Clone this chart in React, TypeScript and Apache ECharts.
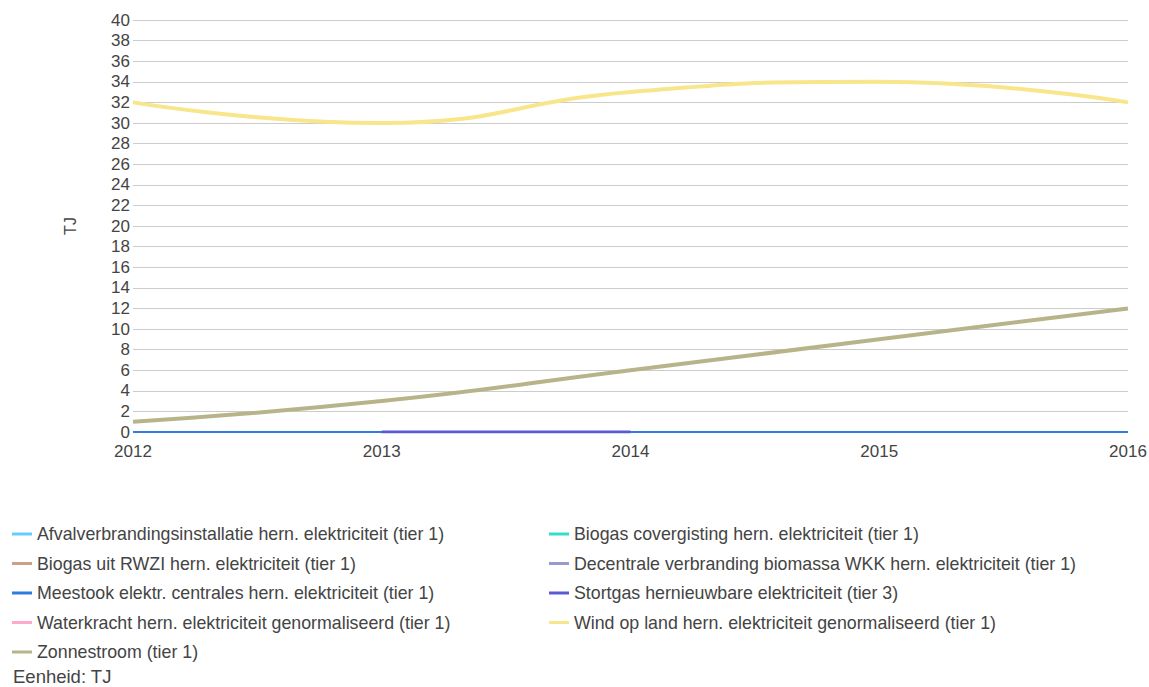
import React, { useEffect, useRef } from "react";
import * as echarts from "echarts";

const years = ["2012", "2013", "2014", "2015", "2016"];

const seriesNames = [
  "Afvalverbrandingsinstallatie hern. elektriciteit (tier 1)",
  "Biogas covergisting hern. elektriciteit (tier 1)",
  "Biogas uit RWZI hern. elektriciteit (tier 1)",
  "Decentrale verbranding biomassa WKK hern. elektriciteit (tier 1)",
  "Meestook elektr. centrales hern. elektriciteit (tier 1)",
  "Stortgas hernieuwbare elektriciteit (tier 3)",
  "Waterkracht hern. elektriciteit genormaliseerd (tier 1)",
  "Wind op land hern. elektriciteit genormaliseerd (tier 1)",
  "Zonnestroom (tier 1)",
];

const seriesColors = [
  "#66ccff",
  "#33ddcc",
  "#cc9f88",
  "#9999cc",
  "#2f7be0",
  "#5a5ad6",
  "#ffaacc",
  "#f7e68c",
  "#b8b48a",
];

const afval = [0, 0, 0, 0, 0];
const biogasCov = [0, 0, 0, 0, 0];
const biogasRwzi = [0, 0, 0, 0, 0];
const decentrale = [0, 0, 0, 0, 0];
const meestook = [0, 0, 0, 0, 0];
const stortgas = [null, 0, 0, null, null];
const waterkracht = [null, null, null, null, null];
const wind = [32, 30, 33, 34, 32];
const zon = [1, 3, 6, 9, 12];

const seriesData = [afval, biogasCov, biogasRwzi, decentrale, meestook, stortgas, waterkracht, wind, zon];
const lineWidths = [2, 2, 2, 2, 2, 3, 2, 4, 4];

const yTicksMax = 40;
const yTickStep = 2;

export default function App() {
  const ref = useRef<HTMLDivElement>(null);
  useEffect(() => {
    if (!ref.current) return;
    const chart = echarts.init(ref.current, undefined, { renderer: "svg" });
    const textColor = "#444444";
    const font = "Arial, 'Liberation Sans', sans-serif";
    const leftLegend = seriesNames.filter((_, i) => i % 2 === 0);
    const rightLegend = seriesNames.filter((_, i) => i % 2 === 1);
    const legendCommon = {
      orient: "vertical" as const,
      top: 525,
      icon: "rect",
      itemWidth: 20,
      itemHeight: 3,
      itemGap: 11.5,
      textStyle: { color: textColor, fontSize: 17.8, fontFamily: font },
      padding: 0,
      selectedMode: false,
    };
    chart.setOption({
      animation: false,
      backgroundColor: "#ffffff",
      textStyle: { fontFamily: font },
      grid: {
        left: 133,
        top: 20,
        width: 995,
        height: 412,
        containLabel: false,
        outerBoundsMode: "none",
      },
      xAxis: {
        type: "category",
        data: years,
        boundaryGap: false,
        axisLine: { show: false },
        axisTick: { show: false },
        axisLabel: {
          color: textColor,
          fontSize: 17,
          fontFamily: font,
          margin: 11,
        },
        splitLine: { show: false },
      },
      yAxis: {
        type: "value",
        min: 0,
        max: yTicksMax,
        interval: yTickStep,
        name: "TJ",
        nameLocation: "middle",
        nameGap: 55,
        nameRotate: 90,
        nameTextStyle: { color: textColor, fontSize: 16, fontFamily: font },
        axisLine: { show: false },
        axisTick: { show: false },
        axisLabel: { color: textColor, fontSize: 17, fontFamily: font, margin: 3 },
        splitLine: { lineStyle: { color: "#cccccc", width: 1 } },
      },
      legend: [
        { ...legendCommon, left: 12, data: leftLegend },
        { ...legendCommon, left: 549, data: rightLegend },
      ],
      graphic: [
        {
          type: "text",
          left: 13,
          top: 667,
          style: { text: "Eenheid: TJ", fill: textColor, fontSize: 18.5, fontFamily: font },
        },
      ],
      series: seriesNames.map((name, i) => ({
        name,
        type: "line",
        data: seriesData[i],
        smooth: true,
        showSymbol: false,
        symbol: "none",
        color: seriesColors[i],
        lineStyle: { color: seriesColors[i], width: lineWidths[i] },
        itemStyle: { color: seriesColors[i] },
        connectNulls: false,
        z: i,
      })),
    });
    return () => chart.dispose();
  }, []);
  return (
    <div
      ref={ref}
      style={{ position: "absolute", left: 0, top: 0, width: 1149, height: 687 }}
    />
  );
}
